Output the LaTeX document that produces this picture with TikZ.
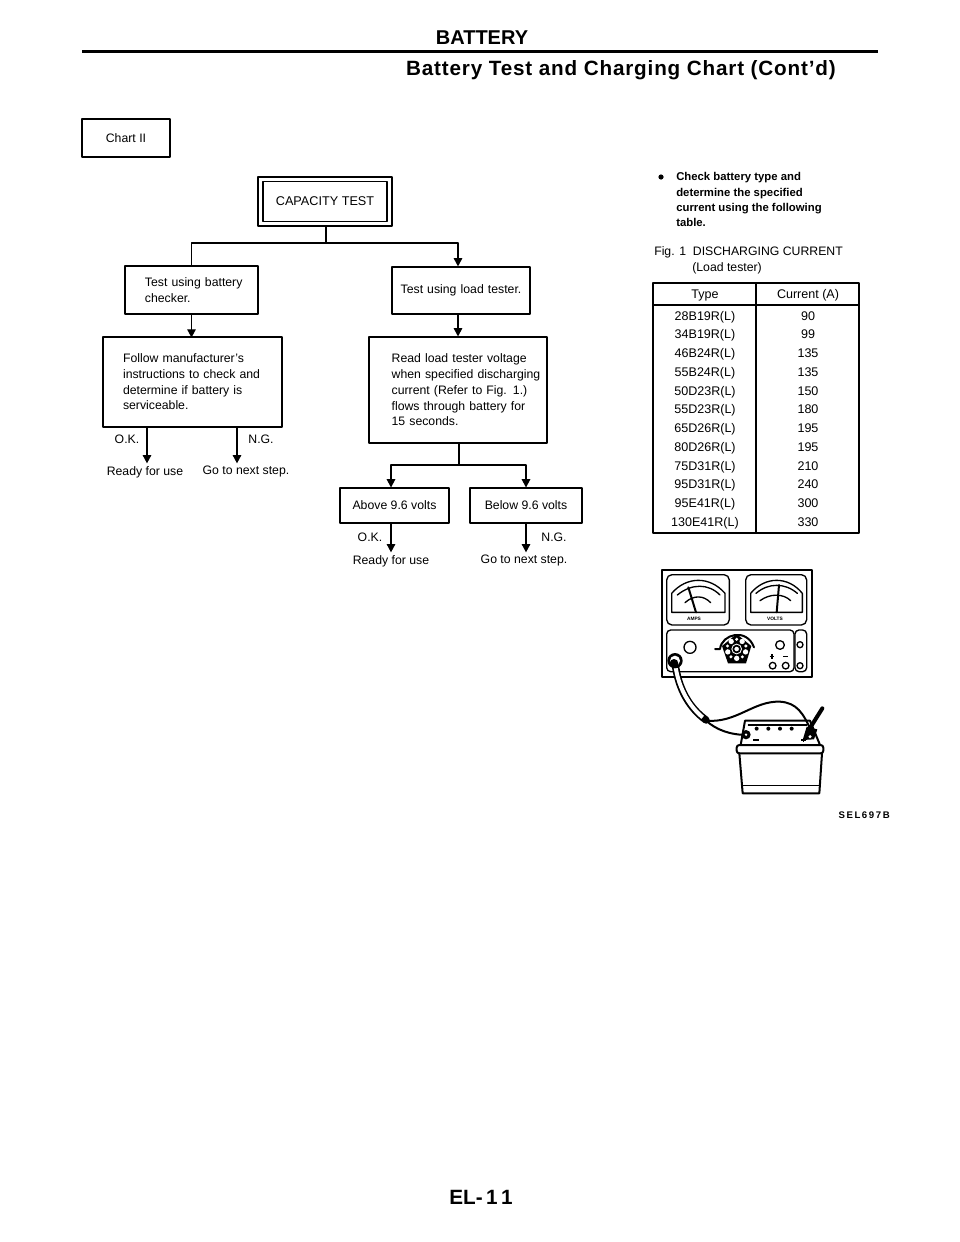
\documentclass[tikz,border=0pt]{standalone}
\usepackage{fontspec}
\setmainfont{Liberation Sans}
\usetikzlibrary{arrows.meta}
\newcommand{\bodysize}{\fontsize{9.2}{11.8}\selectfont}
\newcommand{\tablesize}{\fontsize{9.4}{11}\selectfont}
\tikzset{
  ln/.style={line width=0.85pt,line cap=round,line join=round},
  arr/.style={ln,-{Triangle[length=6.2pt,width=6.4pt]}},
  box/.style={draw,ln,inner sep=0pt,align=left,font=\bodysize},
  padded/.style={execute at begin node={\leftskip=#1\rightskip=0pt plus 1fil\hyphenpenalty=10000\hbadness=10000\hfuzz=20pt\parindent=0pt}},
  txt/.style={inner sep=0pt,font=\bodysize,align=left},
  tabtxt/.style={inner sep=0pt,font=\tablesize,anchor=base},
  head/.style={inner sep=0pt,font=\fontsize{15}{18}\bfseries\selectfont},
  tk/.style={line width=1pt,line cap=round,line join=round},
  tkb/.style={line width=1.5pt,line cap=round,line join=round},
}
\begin{document}
\begin{tikzpicture}[x=0.75pt,y=-0.75pt]
\useasboundingbox (0,0) rectangle (960,1242);
% header
\node[head] (title) at (482,38) {BATTERY};
\coordinate (ruleL) at (82,51.5); \coordinate (ruleR) at (878,51.5);
\draw[line width=2.2pt] (ruleL) -- (ruleR);
\node[head,anchor=base east,font=\fontsize{15.5}{18}\bfseries\addfontfeature{LetterSpace=4}\selectfont] (subtitle) at (836,75) {Battery Test and Charging Chart (Cont'd)};
\node[draw,tkb,minimum width=66.5pt,minimum height=28.5pt,inner sep=0pt,font=\bodysize] (chart) at (126,138) {Chart II};
% capacity
\node[draw,ln,minimum width=100.5pt,minimum height=36.8pt,inner sep=0pt] (capo) at (325,201.5) {};
\node[draw,ln,minimum width=93pt,minimum height=30pt,inner sep=0pt,font=\fontsize{9.5}{12}\selectfont] (cap) at (325,201.5) {CAPACITY TEST};
\coordinate (j1) at (326,243);
\draw[ln] (capo.south -| j1) -- (j1);
% first row
\node[box,padded=15pt,minimum height=36pt,text width=99.8pt] (bat) at (191.5,290) {Test using battery\\checker.};
\node[box,minimum width=103.5pt,minimum height=35.3pt,text width=103.5pt,align=center] (load) at (461,290.5) {Test using load tester.};
\coordinate (jl) at (458,243);
\draw[ln] (j1) -| (bat.north);
\draw[ln] (j1) -- (jl);
\draw[arr] (jl) -- (load.north -| jl);
\draw[arr] (bat.south) -- ++(0,23);
% second row
\node[box,padded=15pt,minimum height=67.5pt,text width=134.2pt] (fol) at (192.5,382) {Follow manufacturer's\\instructions to check and\\determine if battery is\\serviceable.};
\node[box,padded=17pt,minimum height=79.5pt,text width=133.5pt] (read) at (458,390) {Read load tester voltage\\when specified discharging\\current (Refer to Fig. 1.)\\flows through battery for\\15 seconds.};
\draw[arr] (load.south -| jl) -- (read.north -| jl);
% left outcomes
\coordinate (lok) at (147,427); \coordinate (lng) at (237,427);
\node[txt] (okl) at (127,439) {O.K.};
\node[txt] (ngl) at (261,439) {N.G.};
\node[txt,anchor=north] (rd1) at (145,466) {Ready for use};
\node[txt,anchor=north] (go1) at (246,466) {Go to next step.};
\draw[arr,shorten >=2pt] (lok) -- (lok |- rd1.north);
\draw[arr,shorten >=2pt] (lng) -- (lng |- go1.north);
% right branch
\coordinate (j2) at (459,465);
\draw[ln] (read.south -| j2) -- (j2);
\node[box,minimum width=81.8pt,minimum height=26.2pt,align=center] (abv) at (394.5,505.5) {Above 9.6 volts};
\node[box,minimum width=84pt,minimum height=26.2pt,align=center] (blw) at (526,505.5) {Below 9.6 volts};
\coordinate (ja) at (391,465); \coordinate (jb) at (526,465);
\draw[arr] (j2) -- (ja) -- (ja |- abv.north);
\draw[arr] (j2) -- (jb) -- (blw.north);
\node[txt] (ok2) at (370,537) {O.K.};
\node[txt] (ng2) at (554,537) {N.G.};
\node[txt,anchor=north] (rd2) at (391,555) {Ready for use};
\node[txt,anchor=north] (go2) at (524,555) {Go to next step.};
\draw[arr,shorten >=2pt] (ja |- abv.south) -- (ja |- rd2.north);
\draw[arr,shorten >=2pt] (blw.south) -- (jb |- go2.north);
% note
\fill (661,177) circle (2.6);
\node[txt,anchor=north west,font=\fontsize{8.5}{11.5}\bfseries\selectfont] (note) at (676,172.5) {Check battery type and\\determine the specified\\current using the following\\table.};
\node[txt,anchor=base west] (fig) at (654,255) {Fig. 1\ \ DISCHARGING CURRENT};
\node[txt,anchor=base west] (figb) at (692,271) {(Load tester)};
% table
\coordinate (tl) at (653,283); \coordinate (tm) at (756,283); \coordinate (tr) at (859,283);
\coordinate (bl) at (653,533); \coordinate (bm) at (756,533); \coordinate (br) at (859,533);
\coordinate (hl) at (653,305); \coordinate (hr) at (859,305);
\draw[tk] (tl) rectangle (br);
\draw[tk] (tm) -- (bm);
\draw[tk] (hl) -- (hr);
\node[tabtxt] (th1) at (705,298) {Type};
\node[tabtxt] (th2) at (808,298) {Current (A)};
\foreach \ty/\cu [count=\i from 0] in {28B19R(L)/90,34B19R(L)/99,46B24R(L)/135,55B24R(L)/135,50D23R(L)/150,55D23R(L)/180,65D26R(L)/195,80D26R(L)/195,75D31R(L)/210,95D31R(L)/240,95E41R(L)/300,130E41R(L)/330}{
  \node[tabtxt] (ty\i) at (705,320+18.75*\i) {\ty};
  \node[tabtxt] (cu\i) at (808,320+18.75*\i) {\cu};
}
\node[txt,anchor=east,font=\fontsize{7.2}{9}\bfseries\selectfont] (sel) at (890,815) {S\,E\,L\,6\,9\,7\,B};
\node[head,font=\fontsize{15.5}{18}\bfseries\selectfont] (page) at (481,1197) {EL-\,1\,1};
% tester illustration
\begin{scope}[shift={(620,560)},x=0.25pt,y=-0.25pt]
  \draw[tkb] (127,30) rectangle (575,350);
  \draw[tk,rounded corners=4pt] (140,44) rectangle (328,195);
  \draw[tk,rounded corners=4pt] (377,44) rectangle (560,195);
  \draw[tk] (155,157) -- (155,100) .. controls (200,48) and (270,48) .. (315,100) -- (315,157) -- cycle;
  \draw[tk] (392,157) -- (392,100) .. controls (435,48) and (505,48) .. (547,100) -- (547,157) -- cycle;
  \draw[tk] (172,105) .. controls (215,70) and (265,70) .. (300,105);
  \draw[tk] (195,128) .. controls (220,105) and (250,105) .. (272,128);
  \draw[tk] (408,100) .. controls (445,68) and (495,68) .. (532,100);
  \draw[tk] (420,122) .. controls (450,100) and (490,100) .. (512,122);
  \draw[tkb] (205,82) -- (228,157);
  \draw[tkb] (477,75) -- (470,157);
  \node[inner sep=0pt,font=\fontsize{3.6}{4}\bfseries\selectfont] (amps) at (222,177) {AMPS};
  \node[inner sep=0pt,font=\fontsize{3.6}{4}\bfseries\selectfont] (volts) at (465,177) {VOLTS};
  \draw[tk,rounded corners=3pt] (140,210) rectangle (522,335);
  \draw[tk,rounded corners=3pt] (525,210) rectangle (560,335);
  \draw[tk] (210,262) circle (18);
  \draw[tk] (480,255) circle (13);
  \draw[tk] (458,317) circle (10);
  \draw[tk] (497,317) circle (10);
  \draw[tk] (540,254) circle (9);
  \draw[tk] (540,317) circle (9);
  \draw[line width=.8pt] (449,290) -- (463,290) (456,283) -- (456,297);
  \draw[line width=.8pt] (490,290) -- (504,290);
  % knob
  \fill (350,222) -- (394,258) -- (378,310) -- (324,310) -- (306,258) -- cycle;
  \foreach \a in {90,162,234,306,18}{
    \fill[white] (350,267) ++(\a:28) circle (8);
  }
  \foreach \a in {54,126,198,270,342}{
    \fill[white] (350,267) ++(\a:29) circle (5);
  }
  \fill[white] (350,267) circle (16);
  \draw[line width=1.3pt] (350,267) circle (10);
  \draw[tkb] (285,267) -- (300,267) .. controls (305,222) and (380,202) .. (402,262);
  % cable
  \draw[line width=5.5pt,line cap=round] (165,308) .. controls (175,390) and (210,445) .. (258,480);
  \draw[white,line width=3pt] (167,322) .. controls (178,390) and (210,440) .. (248,472);
  \fill (165,302) circle (23);
  \fill[white] (165,302) circle (15);
  \fill (162,310) circle (13);
  \fill (258,481) circle (9);
  \draw[line width=1.5pt] (258,482) .. controls (350,490) and (400,422) .. (480,425) .. controls (530,428) and (550,460) .. (572,510);
  \draw[line width=1.5pt] (258,482) .. controls (290,510) and (330,525) .. (385,525);
  % battery
  \draw[tkb] (362,555) -- (375,482) -- (570,482) -- (600,555);
  \draw[tk] (385,495) -- (560,495);
  \foreach \xx in {410,445,480,515}{\fill (\xx,506) circle (6);}
  \draw[tkb,rounded corners=2pt] (350,555) -- (610,555) -- (610,580) -- (350,580) -- cycle;
  \draw[tkb] (358,580) -- (368,700) -- (598,700) -- (606,580);
  \draw[tk] (365,677) -- (600,677);
  \draw[line width=3pt,line cap=round] (607,445) -- (565,512);
  \fill (378,524) circle (14);
  \fill[white] (378,524) circle (4);
  \fill (560,500) -- (592,508) -- (582,538) -- (548,540) -- cycle;
  \fill[white] (570,530) circle (5);
  \draw[line width=.8pt] (400,540) -- (416,540);
  \draw[line width=.8pt] (543,540) -- (557,540) (550,533) -- (550,547);
\end{scope}
\end{tikzpicture}
\end{document}
